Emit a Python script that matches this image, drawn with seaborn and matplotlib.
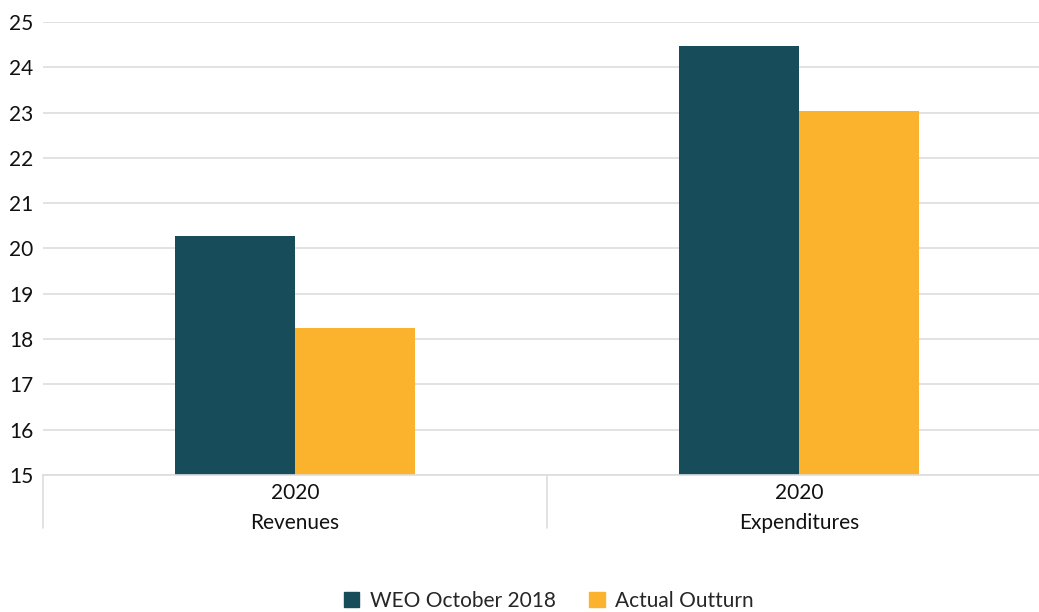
import pandas as pd
import seaborn as sns
import matplotlib.pyplot as plt
from matplotlib.lines import Line2D

# Data
categories = ["Revenues", "Expenditures"]
years = ["2020", "2020"]
weo_oct_2018 = [20.28, 24.47]
actual_outturn = [18.25, 23.03]
series_names = ["WEO October 2018", "Actual Outturn"]

df = pd.DataFrame({
    "category": categories * 2,
    "series": [series_names[0]] * 2 + [series_names[1]] * 2,
    "value": weo_oct_2018 + actual_outturn,
})

sns.set_theme(style="white")
plt.rcParams['font.family'] = ['Lato', 'DejaVu Sans']

fig = plt.figure(figsize=(10.39, 6.12), dpi=100)
# plot area runs a little past the right edge of the image, as in the original
ax = fig.add_axes([43 / 1039, 1 - 475 / 612, (1051 - 43) / 1039, (475 - 22) / 612])

palette = {"WEO October 2018": "#174C5A", "Actual Outturn": "#FBB32E"}
sns.barplot(data=df, x="category", y="value", hue="series", palette=palette,
            order=categories, hue_order=series_names, width=0.476,
            saturation=1, linewidth=0, ax=ax, legend=False)

ax.set_ylim(15, 25)
ax.set_yticks(range(15, 26))
ax.set_xlim(-0.5, 1.5)
ax.grid(axis="y", color="#DDDDDD", linewidth=1.2)
ax.set_axisbelow(True)
for s in ["top", "right", "left"]:
    ax.spines[s].set_visible(False)
ax.spines["bottom"].set_color("#DDDDDD")
ax.spines["bottom"].set_linewidth(1.2)
ax.tick_params(axis="y", length=0, labelsize=15, pad=7, colors="#111111")
ax.tick_params(axis="x", length=0, labelsize=15, pad=6, colors="#111111")
ax.set_xticks(range(len(categories)))
ax.set_xticklabels(years)
ax.set_xlabel("")
ax.set_ylabel("")

# second-level category labels and separators
tr = ax.get_xaxis_transform()
for i, cat in enumerate(categories):
    ax.text(i, -0.106, cat, transform=tr, ha="center", va="center",
            fontsize=15, color="#111111")
for xs in [-0.5, 0.5, 1.5]:
    ax.add_line(Line2D([xs, xs], [0, -0.117], transform=tr, color="#DDDDDD",
                       linewidth=1.2, clip_on=False))

handles = [plt.Rectangle((0, 0), 1, 1, color=palette[s]) for s in series_names]
fig.legend(handles, series_names, loc="center", bbox_to_anchor=(0.528, 0.018),
           ncol=2, frameon=False, fontsize=15, handlelength=0.75,
           handleheight=0.75, handletextpad=0.5, columnspacing=1.6)

fig.savefig("out.png", dpi=100)
